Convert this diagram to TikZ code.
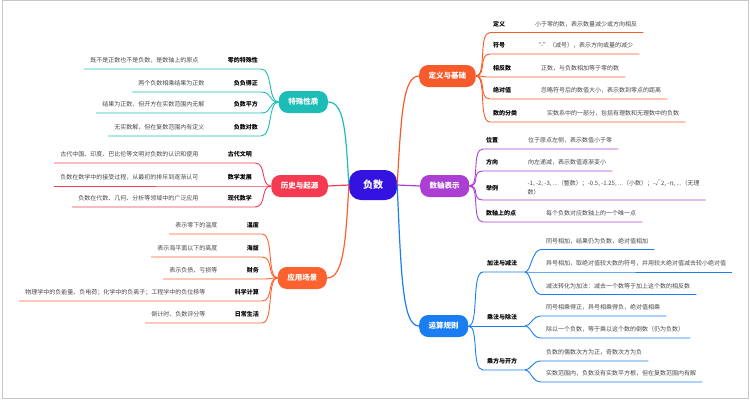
\documentclass[tikz,border=0pt]{standalone}
\usepackage{fontspec}
\setmainfont{Noto Sans CJK SC}
\usetikzlibrary{calc}
\definecolor{cCenter}{HTML}{3412DF}
\definecolor{cDef}{HTML}{F75A2B}
\definecolor{cAxis}{HTML}{AC3FD3}
\definecolor{cOp}{HTML}{1A7EF2}
\definecolor{cSpec}{HTML}{1DBDB7}
\definecolor{cHist}{HTML}{F43B52}
\definecolor{cApp}{HTML}{FC6130}
\tikzset{
  mainnode/.style={fill=#1, text=white, font=\fontsize{7.5}{9}\selectfont\bfseries,
    rounded corners=9pt, minimum height=22pt, inner xsep=9.5pt, inner ysep=0pt},
  lab/.style={font=\fontsize{6}{7}\selectfont\bfseries, text=black, inner sep=0pt},
  det/.style={font=\fontsize{6}{7.5}\selectfont, text=black!72, inner sep=0pt},
  trunk/.style={draw=#1, line width=1.2pt},
  twig/.style={draw=#1, line width=0.9pt},
}
% right-side leaf: parent, colour, id, label x, text y, label, detail
\newcommand{\RLeaf}[7]{%
  \node[lab,anchor=west] (#3l) at (#4,#5) {#6};
  \node[det,anchor=west] (#3d) at ($(#3l.east)+(29.5,0)$) {#7};
  \coordinate (#3) at ($(#4,#5)+(-3,8.5)$);
  \draw[twig=#2] (#1.east) .. controls +(11,0) and +(-12,0) .. (#3) -- ($(#3 -| #3d.east)+(6,0)$);
}
% left-side leaf: parent, colour, id, label right x, text y, label, detail
\newcommand{\LLeaf}[7]{%
  \node[lab,anchor=east] (#3l) at (#4,#5) {#6};
  \node[det,anchor=east] (#3d) at ($(#3l.west)+(-29,0)$) {#7};
  \coordinate (#3) at ($(#4,#5)+(3,8.5)$);
  \draw[twig=#2] (#1.west) .. controls +(-11,0) and +(12,0) .. (#3) -- ($(#3 -| #3d.west)+(-6,0)$);
}
% grandchild leaf: branch coordinate, colour, id, text y, text
\newcommand{\GLeaf}[5]{%
  \node[det,anchor=west] (#3d) at (546,#4) {#5};
  \coordinate (#3) at ($(541,#4)+(0,8.5)$);
  \draw[twig=#2] (#1) .. controls +(6,0) and +(-9,0) .. (#3) -- ($(#3 -| #3d.east)+(6,0)$);
}
\begin{document}
\begin{tikzpicture}[x=1pt, y=-1pt]
\useasboundingbox (0,0) rectangle (750,400);
\draw[black!22, line width=1pt] (2,0.5) rectangle (748,398.5);

% centre and main branches
\node[fill=cCenter, text=white, font=\fontsize{10}{12}\selectfont\bfseries,
  minimum width=48, minimum height=30, rounded corners=12, inner sep=0pt] (c) at (373,185) {负数};

\node[mainnode=cDef, anchor=west] (def) at (419,76) {定义与基础};
\node[mainnode=cAxis, anchor=west] (ax) at (420,186) {数轴表示};
\node[mainnode=cOp, anchor=west] (op) at (419,326) {运算规则};
\node[mainnode=cSpec, anchor=east] (sp) at (328,102) {特殊性质};
\node[mainnode=cHist, anchor=east] (hi) at (328,186) {历史与起源};
\node[mainnode=cApp, anchor=east] (ap) at (327,278) {应用场景};

\draw[trunk=cDef] (c.east) .. controls +(4,-70) and +(-16,0) .. (def.west);
\draw[trunk=cAxis] (c.east) -- (ax.west);
\draw[trunk=cOp] (c.east) .. controls +(4,95) and +(-16,0) .. (op.west);
\draw[trunk=cSpec] (c.west) .. controls +(-3,-55) and +(16,0) .. (sp.east);
\draw[trunk=cHist] (c.west) -- (hi.east);
\draw[trunk=cApp] (c.west) .. controls +(-3,60) and +(16,0) .. (ap.east);

% 定义与基础
\RLeaf{def}{cDef}{d1}{493}{24}{定义}{小于零的数，表示数量减少或方向相反}
\RLeaf{def}{cDef}{d2}{493}{45.5}{符号}{“-”（减号），表示方向或量的减少}
\RLeaf{def}{cDef}{d3}{493}{68.5}{相反数}{正数，与负数相加等于零的数}
\RLeaf{def}{cDef}{d4}{493}{90.5}{绝对值}{忽略符号后的数值大小，表示数到零点的距离}
\RLeaf{def}{cDef}{d5}{493}{113.5}{数的分类}{实数系中的一部分，包括有理数和无理数中的负数}

% 数轴表示
\RLeaf{ax}{cAxis}{s1}{486}{140.5}{位置}{位于原点左侧，表示数值小于零}
\RLeaf{ax}{cAxis}{s2}{486}{162.5}{方向}{向左递减，表示数值逐渐变小}
\node[lab,anchor=west] (s3l) at (486,188) {举例};
\node[det,anchor=west,align=left,font=\fontsize{6}{9}\selectfont] (s3d) at ($(s3l.east)+(29,0)$)
  {-1, -2, -3, ...（整数）；-0.5, -1.25, ...（小数）；-√2, -π, ...（无理\\数）};
\coordinate (s3) at (483,200);
\draw[twig=cAxis] (ax.east) .. controls +(11,0) and +(-12,0) .. (s3) -- ($(s3 -| s3d.east)+(6,0)$);
\RLeaf{ax}{cAxis}{s4}{486}{213.5}{数轴上的点}{每个负数对应数轴上的一个唯一点}

% 运算规则
\node[lab,anchor=west] (o1l) at (487,263.5) {加法与减法};
\coordinate (o1) at (483,272); \coordinate (o1b) at (525,272);
\draw[twig=cOp] (op.east) .. controls +(11,0) and +(-12,0) .. (o1) -- (o1b);
\GLeaf{o1b}{cOp}{g11}{241}{同号相加，结果仍为负数，绝对值相加}
\GLeaf{o1b}{cOp}{g12}{263.5}{异号相加，取绝对值较大数的符号，并用较大绝对值减去较小绝对值}
\GLeaf{o1b}{cOp}{g13}{286}{减法转化为加法：减去一个数等于加上这个数的相反数}

\node[lab,anchor=west] (o2l) at (487,317.5) {乘法与除法};
\coordinate (o2b) at (525,326);
\draw[twig=cOp] (op.east) -- (o2b);
\GLeaf{o2b}{cOp}{g21}{307.5}{同号相乘得正，异号相乘得负，绝对值相乘}
\GLeaf{o2b}{cOp}{g22}{329.5}{除以一个负数，等于乘以这个数的倒数（仍为负数）}

\node[lab,anchor=west] (o3l) at (487,361.5) {乘方与开方};
\coordinate (o3) at (483,370); \coordinate (o3b) at (525,370);
\draw[twig=cOp] (op.east) .. controls +(11,0) and +(-12,0) .. (o3) -- (o3b);
\GLeaf{o3b}{cOp}{g31}{352.5}{负数的偶数次方为正，奇数次方为负}
\GLeaf{o3b}{cOp}{g32}{373.5}{实数范围内，负数没有实数平方根，但在复数范围内有解}

% 特殊性质
\LLeaf{sp}{cSpec}{t1}{258}{60.5}{零的特殊性}{既不是正数也不是负数，是数轴上的原点}
\LLeaf{sp}{cSpec}{t2}{258}{83.5}{负负得正}{两个负数相乘结果为正数}
\LLeaf{sp}{cSpec}{t3}{258}{104.5}{负数平方}{结果为正数，但开方在实数范围内无解}
\LLeaf{sp}{cSpec}{t4}{258}{127.5}{负数对数}{无实数解，但在复数范围内有定义}

% 历史与起源
\LLeaf{hi}{cHist}{h1}{252}{154.5}{古代文明}{古代中国、印度、巴比伦等文明对负数的认识和使用}
\LLeaf{hi}{cHist}{h2}{252}{177.5}{数学发展}{负数在数学中的接受过程，从最初的排斥到逐渐认可}
\LLeaf{hi}{cHist}{h3}{252}{198.5}{现代数学}{负数在代数、几何、分析等领域中的广泛应用}

% 应用场景
\LLeaf{ap}{cApp}{a1}{259}{225.5}{温度}{表示零下的温度}
\LLeaf{ap}{cApp}{a2}{259}{248.5}{海拔}{表示海平面以下的高度}
\LLeaf{ap}{cApp}{a3}{259}{270.5}{财务}{表示负债、亏损等}
\LLeaf{ap}{cApp}{a4}{259}{292.5}{科学计算}{物理学中的负能量、负电荷；化学中的负离子；工程学中的负位移等}
\LLeaf{ap}{cApp}{a5}{259}{314.5}{日常生活}{倒计时、负数评分等}
\end{tikzpicture}
\end{document}
